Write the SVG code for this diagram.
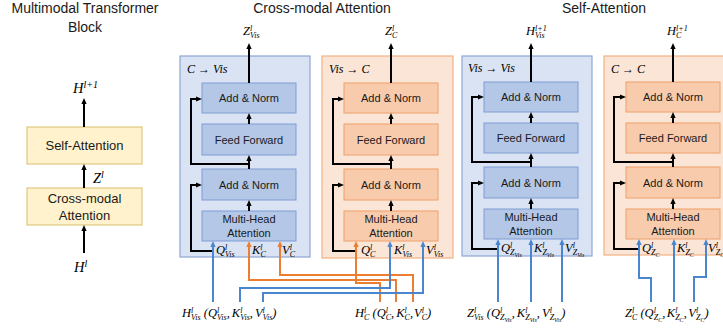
<svg xmlns="http://www.w3.org/2000/svg" width="723" height="329" viewBox="0 0 723 329">
  <style>
    .t { font-family: "Liberation Sans", Arial, sans-serif; fill: #1a1a1a; text-anchor: middle; }
    .bt { font-size: 11px; }
    .hd { font-size: 14px; }
    .yt { font-size: 13px; }
    .m { font-family: "Liberation Serif", "Times New Roman", serif; font-style: italic; font-size: 12.5px; fill: #000; }
    .s { font-size: 8px; }
    .ss { font-size: 6px; }
    .pan-b { fill: #DAE3F3; stroke: #8EA6D2; stroke-width: 1.2; }
    .box-b { fill: #B4C7E7; stroke: #7F9DD3; stroke-width: 1; }
    .pan-o { fill: #FBE5D6; stroke: #F4B183; stroke-width: 1.2; }
    .box-o { fill: #F8CBAD; stroke: #F0A06A; stroke-width: 1; }
    .yel { fill: #FFF2CC; stroke: #D9BE6C; stroke-width: 1; }
    .blk { fill: none; stroke: #000; stroke-width: 2; marker-end: url(#ak); }
    .res { fill: none; stroke: #000; stroke-width: 2; marker-end: url(#ak); stroke-linejoin: miter; }
    .blu { fill: none; stroke: #4A86CF; stroke-width: 2; marker-end: url(#ab); }
    .org { fill: none; stroke: #ED7D31; stroke-width: 2; marker-end: url(#ao); }
  </style>
  <defs>
    <marker id="ak" viewBox="0 0 6 6" refX="3" refY="3" markerWidth="6" markerHeight="6" orient="auto" markerUnits="userSpaceOnUse">
      <path d="M0,0.4 L6,3 L0,5.6 z" fill="#000"/>
    </marker>
    <marker id="ab" viewBox="0 0 6 6" refX="3" refY="3" markerWidth="6" markerHeight="6" orient="auto" markerUnits="userSpaceOnUse">
      <path d="M0,0.4 L6,3 L0,5.6 z" fill="#4A86CF"/>
    </marker>
    <marker id="ao" viewBox="0 0 6 6" refX="3" refY="3" markerWidth="6" markerHeight="6" orient="auto" markerUnits="userSpaceOnUse">
      <path d="M0,0.4 L6,3 L0,5.6 z" fill="#ED7D31"/>
    </marker>
  </defs>

  <!-- headings -->
  <g id="headings">
    <text class="t hd" x="85" y="13">Multimodal Transformer</text>
    <text class="t hd" x="85" y="32">Block</text>
    <text class="t hd" x="322" y="13">Cross-modal Attention</text>
    <text class="t hd" x="604" y="13">Self-Attention</text>
  </g>

  <!-- overview block -->
  <g id="self-attention-block">
    <rect class="yel" x="27" y="127" width="115" height="37"/>
    <text class="t yt" x="84.5" y="150">Self-Attention</text>
  </g>
  <g id="cross-modal-block">
    <rect class="yel" x="27" y="188" width="115" height="37"/>
    <text class="t yt" x="84.5" y="202.5">Cross-modal</text>
    <text class="t yt" x="84.5" y="219.5">Attention</text>
  </g>
  <g id="overview-labels">
    <text class="m" x="73" y="93" style="font-size:14.5px">H<tspan style="font-size:10px" dy="-5.5">l+1</tspan></text>
    <text class="m" x="93" y="183" style="font-size:14.5px">Z<tspan style="font-size:10px" dy="-5.5">l</tspan></text>
    <text class="m" x="74" y="272" style="font-size:14.5px">H<tspan style="font-size:10px" dy="-5.5">l</tspan></text>
  </g>

  <!-- panel 1: C -> Vis -->
  <g id="panel-c-vis">
    <rect class="pan-b" x="180" y="56" width="130" height="201"/>
    <text class="m" x="187" y="73" style="font-size:12px">C → Vis</text>
    <rect class="box-b" x="202" y="83" width="94" height="30"/>
    <text class="t bt" x="249" y="102">Add &amp; Norm</text>
    <rect class="box-b" x="202" y="124" width="94" height="31"/>
    <text class="t bt" x="249" y="143.5">Feed Forward</text>
    <rect class="box-b" x="202" y="169" width="94" height="31"/>
    <text class="t bt" x="249" y="188.5">Add &amp; Norm</text>
    <rect class="box-b" x="202" y="211" width="94" height="30"/>
    <text class="t bt" x="249" y="223">Multi-Head</text>
    <text class="t bt" x="249" y="237">Attention</text>
    <text class="m" x="216" y="254">Q<tspan class="s" dy="-4.5">l</tspan><tspan class="s" dx="-2.2" dy="7.5">Vis</tspan></text>
    <text class="m" x="252" y="254">K<tspan class="s" dy="-4.5">l</tspan><tspan class="s" dx="-2.2" dy="7.5">C</tspan></text>
    <text class="m" x="282" y="254">V<tspan class="s" dy="-4.5">l</tspan><tspan class="s" dx="-2.2" dy="7.5">C</tspan></text>
    <text class="m" x="243" y="35">Z<tspan class="s" dy="-4.5">l</tspan><tspan class="s" dx="-2.2" dy="7.5">Vis</tspan></text>
  </g>

  <!-- panel 2: Vis -> C -->
  <g id="panel-vis-c">
    <rect class="pan-o" x="322" y="56" width="131" height="202"/>
    <text class="m" x="329" y="73" style="font-size:12px">Vis → C</text>
    <rect class="box-o" x="344" y="83" width="94" height="30"/>
    <text class="t bt" x="391" y="102">Add &amp; Norm</text>
    <rect class="box-o" x="344" y="124" width="94" height="31"/>
    <text class="t bt" x="391" y="143.5">Feed Forward</text>
    <rect class="box-o" x="344" y="169" width="94" height="31"/>
    <text class="t bt" x="391" y="188.5">Add &amp; Norm</text>
    <rect class="box-o" x="344" y="211" width="94" height="30"/>
    <text class="t bt" x="391" y="223">Multi-Head</text>
    <text class="t bt" x="391" y="237">Attention</text>
    <text class="m" x="361" y="254">Q<tspan class="s" dy="-4.5">l</tspan><tspan class="s" dx="-2.2" dy="7.5">C</tspan></text>
    <text class="m" x="394" y="254">K<tspan class="s" dy="-4.5">l</tspan><tspan class="s" dx="-2.2" dy="7.5">Vis</tspan></text>
    <text class="m" x="426" y="254">V<tspan class="s" dy="-4.5">l</tspan><tspan class="s" dx="-2.2" dy="7.5">Vis</tspan></text>
    <text class="m" x="385" y="35">Z<tspan class="s" dy="-4.5">l</tspan><tspan class="s" dx="-2.2" dy="7.5">C</tspan></text>
  </g>

  <!-- panel 3: Vis -> Vis -->
  <g id="panel-vis-vis">
    <rect class="pan-b" x="462" y="56" width="130" height="200"/>
    <text class="m" x="468" y="72" style="font-size:12px">Vis → Vis</text>
    <rect class="box-b" x="484" y="82" width="94" height="30"/>
    <text class="t bt" x="531" y="101">Add &amp; Norm</text>
    <rect class="box-b" x="484" y="123" width="94" height="30"/>
    <text class="t bt" x="531" y="142">Feed Forward</text>
    <rect class="box-b" x="484" y="167" width="94" height="31"/>
    <text class="t bt" x="531" y="186.5">Add &amp; Norm</text>
    <rect class="box-b" x="484" y="209" width="94" height="30"/>
    <text class="t bt" x="531" y="221">Multi-Head</text>
    <text class="t bt" x="531" y="235">Attention</text>
    <text class="m" x="501" y="252">Q<tspan class="s" dy="-4.5">l</tspan><tspan class="s" dx="-2.2" dy="7.5">Z</tspan><tspan class="ss" dy="1.5">Vis</tspan></text>
    <text class="m" x="534" y="252">K<tspan class="s" dy="-4.5">l</tspan><tspan class="s" dx="-2.2" dy="7.5">Z</tspan><tspan class="ss" dy="1.5">Vis</tspan></text>
    <text class="m" x="565" y="252">V<tspan class="s" dy="-4.5">l</tspan><tspan class="s" dx="-2.2" dy="7.5">Z</tspan><tspan class="ss" dy="1.5">Vis</tspan></text>
    <text class="m" x="526" y="35">H<tspan class="s" dy="-4.5">l+1</tspan><tspan class="s" dx="-11.6" dy="7.5">Vis</tspan></text>
  </g>

  <!-- panel 4: C -> C -->
  <g id="panel-c-c">
    <rect class="pan-o" x="604" y="56" width="140" height="199"/>
    <text class="m" x="611" y="73" style="font-size:12px">C → C</text>
    <rect class="box-o" x="626" y="82" width="94" height="30"/>
    <text class="t bt" x="673" y="101">Add &amp; Norm</text>
    <rect class="box-o" x="626" y="123" width="94" height="30"/>
    <text class="t bt" x="673" y="142">Feed Forward</text>
    <rect class="box-o" x="626" y="167" width="94" height="31"/>
    <text class="t bt" x="673" y="186.5">Add &amp; Norm</text>
    <rect class="box-o" x="626" y="209" width="94" height="30"/>
    <text class="t bt" x="673" y="221">Multi-Head</text>
    <text class="t bt" x="673" y="235">Attention</text>
    <text class="m" x="642" y="252">Q<tspan class="s" dy="-4.5">l</tspan><tspan class="s" dx="-2.2" dy="7.5">Z</tspan><tspan class="ss" dy="1.5">C</tspan></text>
    <text class="m" x="677" y="252">K<tspan class="s" dy="-4.5">l</tspan><tspan class="s" dx="-2.2" dy="7.5">Z</tspan><tspan class="ss" dy="1.5">C</tspan></text>
    <text class="m" x="708" y="252">V<tspan class="s" dy="-4.5">l</tspan><tspan class="s" dx="-2.2" dy="7.5">Z</tspan><tspan class="ss" dy="1.5">C</tspan></text>
    <text class="m" x="667" y="35">H<tspan class="s" dy="-4.5">l+1</tspan><tspan class="s" dx="-11.6" dy="7.5">C</tspan></text>
  </g>

  <!-- input labels under the panels -->
  <g id="inputs">
    <text class="m" x="182" y="317">H<tspan class="s" dy="-4.5">l</tspan><tspan class="s" dx="-2.2" dy="7.5">Vis</tspan><tspan dy="-3"> (Q</tspan><tspan class="s" dy="-4.5">l</tspan><tspan class="s" dx="-2.2" dy="7.5">Vis</tspan><tspan dy="-3">,</tspan><tspan dx="2">K</tspan><tspan class="s" dy="-4.5">l</tspan><tspan class="s" dx="-2.2" dy="7.5">Vis</tspan><tspan dy="-3">,</tspan><tspan dx="2">V</tspan><tspan class="s" dy="-4.5">l</tspan><tspan class="s" dx="-2.2" dy="7.5">Vis</tspan><tspan dy="-3">)</tspan></text>
    <text class="m" x="355" y="317">H<tspan class="s" dy="-4.5">l</tspan><tspan class="s" dx="-2.2" dy="7.5">C</tspan><tspan dy="-3"> (Q</tspan><tspan class="s" dy="-4.5">l</tspan><tspan class="s" dx="-2.2" dy="7.5">C</tspan><tspan dy="-3">,</tspan><tspan dx="2">K</tspan><tspan class="s" dy="-4.5">l</tspan><tspan class="s" dx="-2.2" dy="7.5">C</tspan><tspan dy="-3">,</tspan><tspan dx="1">V</tspan><tspan class="s" dy="-4.5">l</tspan><tspan class="s" dx="-2.2" dy="7.5">C</tspan><tspan dy="-3">)</tspan></text>
    <text class="m" x="467" y="317">Z<tspan class="s" dy="-4.5">l</tspan><tspan class="s" dx="-2.2" dy="7.5">Vis</tspan><tspan dy="-3"> (Q</tspan><tspan class="s" dy="-4.5">l</tspan><tspan class="s" dx="-2.2" dy="7.5">Z</tspan><tspan class="ss" dy="1.5">Vis</tspan><tspan dy="-4.5">,</tspan><tspan dx="2">K</tspan><tspan class="s" dy="-4.5">l</tspan><tspan class="s" dx="-2.2" dy="7.5">Z</tspan><tspan class="ss" dy="1.5">Vis</tspan><tspan dy="-4.5">,</tspan><tspan dx="2">V</tspan><tspan class="s" dy="-4.5">l</tspan><tspan class="s" dx="-2.2" dy="7.5">Z</tspan><tspan class="ss" dy="1.5">Vis</tspan><tspan dy="-4.5">)</tspan></text>
    <text class="m" x="625" y="317">Z<tspan class="s" dy="-4.5">l</tspan><tspan class="s" dx="-2.2" dy="7.5">C</tspan><tspan dy="-3"> (Q</tspan><tspan class="s" dy="-4.5">l</tspan><tspan class="s" dx="-2.2" dy="7.5">Z</tspan><tspan class="ss" dy="1.5">C</tspan><tspan dy="-4.5">,</tspan><tspan dx="1.5">K</tspan><tspan class="s" dy="-4.5">l</tspan><tspan class="s" dx="-2.2" dy="7.5">Z</tspan><tspan class="ss" dy="1.5">C</tspan><tspan dy="-4.5">,</tspan><tspan dx="1.5">V</tspan><tspan class="s" dy="-4.5">l</tspan><tspan class="s" dx="-2.2" dy="7.5">Z</tspan><tspan class="ss" dy="1.5">C</tspan><tspan dy="-4.5">)</tspan></text>
  </g>

  <!-- connectors -->
  <g id="connectors">
    <!-- overview -->
    <path class="blk" d="M84,253 V228"/>
    <path class="blk" d="M84,188 V167"/>
    <path class="blk" d="M84,127 V101"/>

    <!-- panel 1 internal flow -->
    <path class="blk" d="M249,83 V46"/>
    <path class="blk" d="M249,124 V116"/>
    <path class="blk" d="M249,169 V158"/>
    <path class="blk" d="M249,211 V203"/>
    <path class="res" d="M249,164 H191 V99 H199"/>
    <path class="res" d="M213,251 H191 V185 H199"/>

    <!-- panel 2 internal flow -->
    <path class="blk" d="M391,83 V46"/>
    <path class="blk" d="M391,124 V116"/>
    <path class="blk" d="M391,169 V158"/>
    <path class="blk" d="M391,211 V203"/>
    <path class="res" d="M391,164 H333 V99 H341"/>
    <path class="res" d="M356,251 H333 V185 H341"/>

    <!-- panel 3 internal flow -->
    <path class="blk" d="M531,82 V46"/>
    <path class="blk" d="M531,123 V115"/>
    <path class="blk" d="M531,167 V156"/>
    <path class="blk" d="M531,209 V201"/>
    <path class="res" d="M531,162 H472 V97 H481"/>
    <path class="res" d="M498,249 H472 V183 H481"/>

    <!-- panel 4 internal flow -->
    <path class="blk" d="M673,82 V46"/>
    <path class="blk" d="M673,123 V115"/>
    <path class="blk" d="M673,167 V156"/>
    <path class="blk" d="M673,209 V201"/>
    <path class="res" d="M673,162 H614 V97 H623"/>
    <path class="res" d="M639,249 H614 V183 H623"/>

    <!-- cross-modal inputs -->
    <path class="blu" d="M213,302 V244"/>
    <path class="org" d="M396,302 V280 H249 V244"/>
    <path class="org" d="M413,302 V275 H280 V244"/>
    <path class="org" d="M380,302 V283 H356 V244"/>
    <path class="blu" d="M240,302 V288 H390 V244"/>
    <path class="blu" d="M263,302 V293 H423 V244"/>

    <!-- self-attention inputs -->
    <path class="blu" d="M498,302 V242"/>
    <path class="blu" d="M531,302 V242"/>
    <path class="blu" d="M562,302 V242"/>
    <path class="blu" d="M651,302 V278 H639 V242"/>
    <path class="blu" d="M674,302 V242"/>
    <path class="blu" d="M694,302 V277 H706 V242"/>
  </g>
</svg>
